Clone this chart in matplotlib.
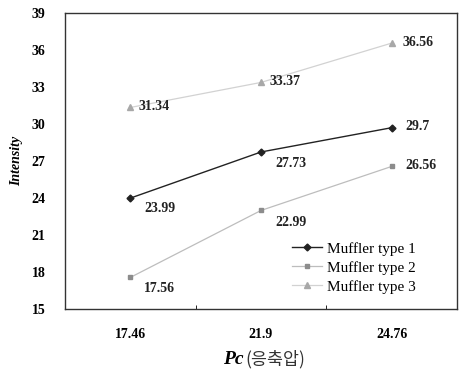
import matplotlib
matplotlib.use("Agg")
import matplotlib.pyplot as plt
from matplotlib.font_manager import FontProperties

categories = ["17.46", "21.9", "24.76"]
type1 = [23.99, 27.73, 29.7]
type2 = [17.56, 22.99, 26.56]
type3 = [31.34, 33.37, 36.56]
series_names = ["Muffler type 1", "Muffler type 2", "Muffler type 3"]
yticks = [15, 18, 21, 24, 27, 30, 33, 36, 39]

plt.rcParams['font.family'] = ['Liberation Serif', 'Noto Sans CJK KR']

fig = plt.figure(figsize=(4.63, 3.71), dpi=100)
ax = fig.add_axes([65/463, 1-309/371, 392/463, 296/371])

x = [0.5, 1.5, 2.5]
styles = [
    dict(color="#222222", mc="#222222", marker="D", ms=3.5, lw=1.0),
    dict(color="#bdbdbd", mc="#8c8c8c", marker="s", ms=3.5, lw=0.9),
    dict(color="#d2d2d2", mc="#a8a8a8", marker="^", ms=4, lw=0.9),
]
data = [type1, type2, type3]
for vals, name, st in zip(data, series_names, styles):
    ax.plot(x, vals, label=name, color=st["color"], marker=st["marker"],
            markersize=st["ms"], linewidth=st["lw"],
            markerfacecolor=st["mc"], markeredgecolor=st["mc"])

# data labels
offsets = [
    [(10, -12), (10, -13), (10, -4)],
    [(10, -13), (10, -13), (10, -4)],
    [(6, -4), (6, -4), (8, -4)],
]
for vals, offs in zip(data, offsets):
    for xi, v, o in zip(x, vals, offs):
        ax.annotate(f"{v:g}", (xi, v), xytext=o, textcoords="offset points",
                    fontsize=10, fontweight="bold", color="#222222", va="bottom",
                    family="Liberation Serif")

ax.set_xlim(0, 3)
ax.set_ylim(15, 39)
ax.set_yticks(yticks)
ax.set_yticklabels([str(t) for t in yticks], fontsize=10, fontweight="bold",
                   family="Liberation Serif")
ax.set_xticks(x)
ax.set_xticklabels(categories, fontsize=10, fontweight="bold", family="Liberation Serif")
ax.set_xticks([1, 2], minor=True)
ax.tick_params(axis="x", which="major", length=0, pad=14)
ax.tick_params(axis="x", which="minor", length=3, direction="in")
ax.tick_params(axis="y", length=0, pad=14)
for s in ax.spines.values():
    s.set_color("#333333")
    s.set_linewidth(1.0)

ax.set_ylabel("Intensity", fontsize=10, fontweight="bold", style="italic", labelpad=6,
              family="Liberation Serif")

# x label: italic bold "Pc" + Korean part
fig.text(0.527, 1-359/371, "Pc", fontsize=14, fontweight="bold", style="italic",
         family="Liberation Serif", ha="right", va="center")
fig.text(0.529, 1-359/371, "(응축압)", fontsize=12.5, family="Noto Sans CJK KR",
         color="#333333", ha="left", va="center")

leg_prop = FontProperties(family="Liberation Serif", size=11)
leg = ax.legend(loc="lower right", bbox_to_anchor=(0.93, 0.005), frameon=False,
                prop=leg_prop, handlelength=2.0, labelspacing=0.35, handletextpad=0.3)

fig.savefig("out.png", dpi=100)
